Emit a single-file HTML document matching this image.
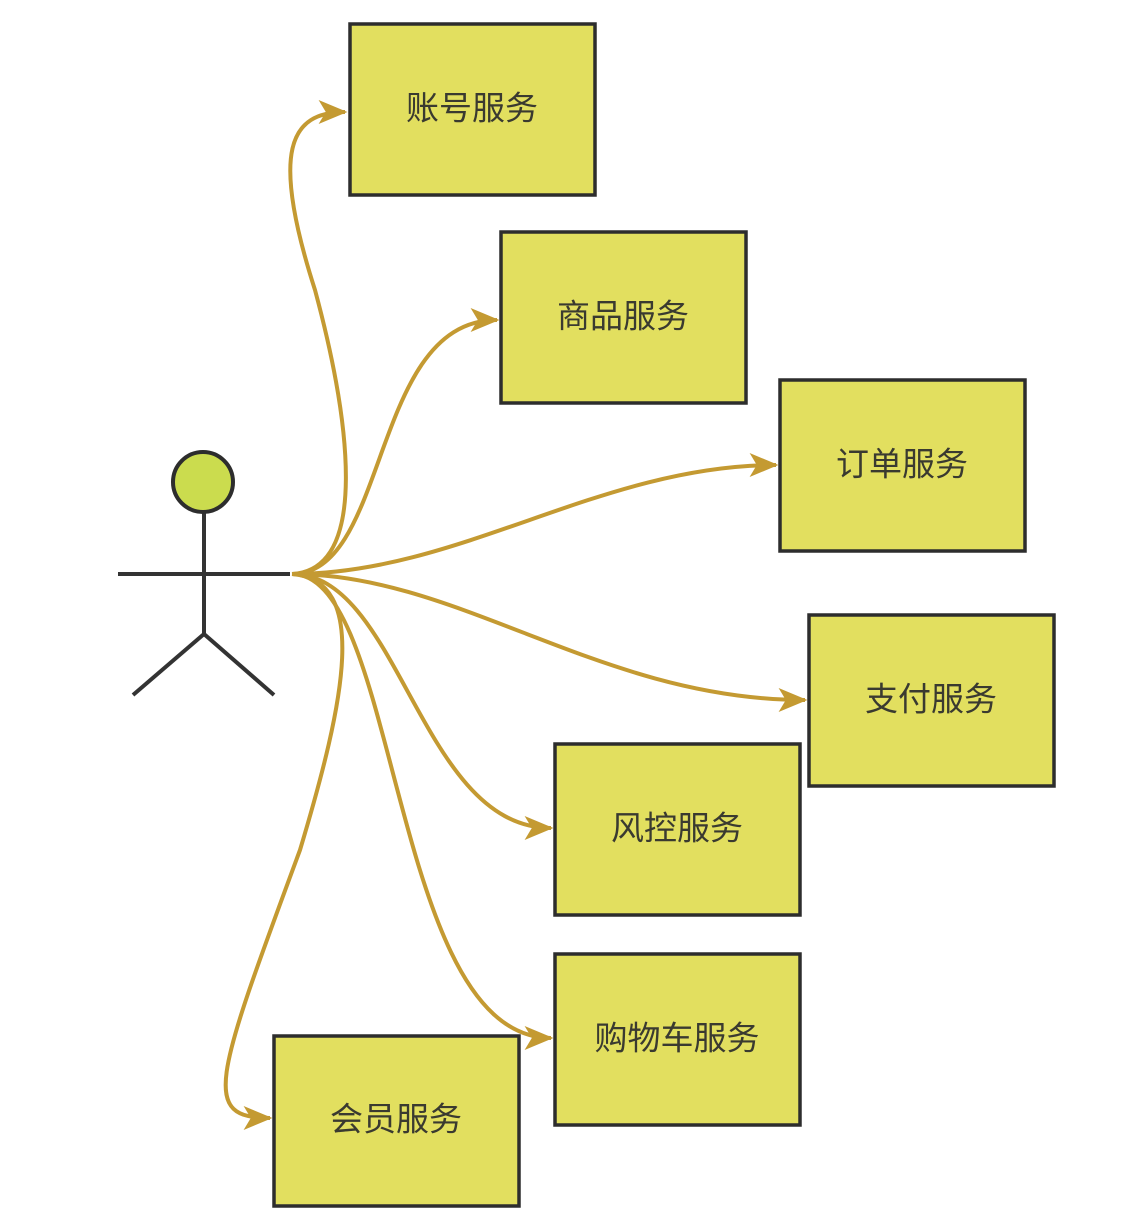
<!DOCTYPE html>
<html><head><meta charset="utf-8"><style>
html,body{margin:0;padding:0;background:#fff;}
svg{display:block}
text{font-family:"Liberation Sans","Noto Sans CJK SC",sans-serif;font-size:33px;fill:#3a3a30;}
</style></head><body>
<svg width="1126" height="1232" viewBox="0 0 1126 1232">
<defs>
<marker id="ar" viewBox="0 0 12 10" refX="11" refY="5" markerWidth="30" markerHeight="24" markerUnits="userSpaceOnUse" orient="auto">
<path d="M0,0 L12,5 L0,10 L3,5 Z" fill="#c49a32"/>
</marker>
</defs>
<g fill="none" stroke="#c49a32" stroke-width="4" marker-end="url(#ar)">
<path d="M292 574 C 370 570, 350 420, 315 290 C 270 150, 290 112, 345 112"/>
<path d="M292 574 C 390 574, 370 320, 497 320"/>
<path d="M292 574 C 460 574, 600 465, 776 465"/>
<path d="M292 574 C 460 574, 600 700, 805 700"/>
<path d="M292 574 C 400 574, 420 828, 551 828"/>
<path d="M292 574 C 400 574, 390 1038, 551 1038"/>
<path d="M292 574 C 370 580, 345 700, 300 850 C 215 1080, 200 1118, 270 1118"/>
</g>
<g stroke="#333" stroke-width="4" fill="none">
<line x1="204" y1="512" x2="204" y2="634"/>
<line x1="118" y1="574" x2="290" y2="574"/>
<line x1="204" y1="634" x2="133" y2="695"/>
<line x1="204" y1="634" x2="274" y2="695"/>
</g>
<circle cx="203" cy="482" r="30" fill="#cbdc4e" stroke="#2d2d2d" stroke-width="4"/>
<g fill="#e2df5f" stroke="#2d2d2d" stroke-width="3.5">
<rect x="350" y="24" width="245" height="171"/>
<rect x="501" y="232" width="245" height="171"/>
<rect x="780" y="380" width="245" height="171"/>
<rect x="809" y="615" width="245" height="171"/>
<rect x="555" y="744" width="245" height="171"/>
<rect x="555" y="954" width="245" height="171"/>
<rect x="274" y="1036" width="245" height="170"/>
</g>
<g text-anchor="middle" dominant-baseline="central">
<text x="472" y="108">账号服务</text>
<text x="623" y="316">商品服务</text>
<text x="902" y="464">订单服务</text>
<text x="931" y="699">支付服务</text>
<text x="677" y="828">风控服务</text>
<text x="677" y="1038">购物车服务</text>
<text x="396" y="1119">会员服务</text>
</g>
</svg>
</body></html>
